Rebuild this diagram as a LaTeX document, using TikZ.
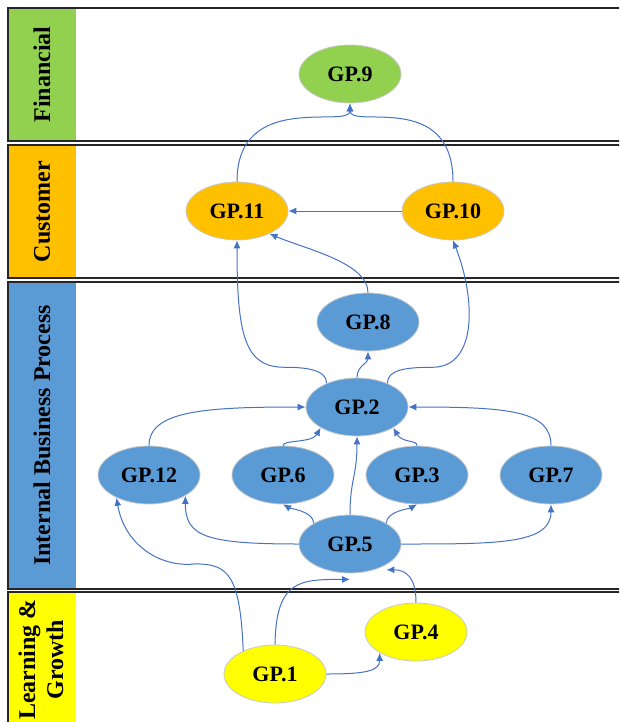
\documentclass[tikz,border=0pt]{standalone}
\usepackage{fontspec}
\setmainfont{Liberation Serif}
\usetikzlibrary{shapes.geometric,arrows.meta}
\definecolor{finGreen}{HTML}{92D050}
\definecolor{custOrange}{HTML}{FFC000}
\definecolor{procBlue}{HTML}{5B9BD5}
\definecolor{learnYellow}{HTML}{FFFF00}
\definecolor{linkBlue}{HTML}{4472C4}
\definecolor{rimGray}{HTML}{C8C8C8}
\tikzset{
  gp/.style={ellipse, draw=rimGray, line width=0.8pt, minimum width=102pt, minimum height=58pt, inner sep=0pt, font=\fontsize{22}{24}\selectfont\bfseries},
  lane/.style={draw=black!85, line width=1.3pt},
  lanelabel/.style={rotate=90, align=center, font=\fontsize{24}{28}\selectfont\bfseries},
  link/.style={draw=linkBlue, line width=1pt, -{Latex[length=8pt,width=7pt]}},
}
\begin{document}
\begin{tikzpicture}[x=1pt, y=-1pt]
\useasboundingbox (0,0) rectangle (619,722);
\clip (0,0) rectangle (619,722);

\fill[finGreen] (8,8) rectangle (76,141);
\fill[custOrange] (8,145) rectangle (76,278);
\fill[procBlue] (8,282) rectangle (76,589);
\fill[learnYellow] (8,592) rectangle (76,728);
\draw[lane] (8,8) rectangle (630,141);
\draw[lane] (8,145) rectangle (630,278);
\draw[lane] (8,282) rectangle (630,589);
\draw[lane] (8,592) rectangle (630,728);

\node[lanelabel] (finLabel) at (42,74.5) {Financial};
\node[lanelabel] (custLabel) at (42,211.5) {Customer};
\node[lanelabel] (procLabel) at (42,435.5) {Internal Business Process};
\node[lanelabel] (learnLabel) at (41,659.5) {Learning \&\\Growth};

\node[gp, fill=finGreen] (gp9) at (350,74) {GP.9};
\node[gp, fill=custOrange] (gp11) at (237,211) {GP.11};
\node[gp, fill=custOrange] (gp10) at (453,211) {GP.10};
\node[gp, fill=procBlue] (gp8) at (368,322) {GP.8};
\node[gp, fill=procBlue] (gp2) at (357,407) {GP.2};
\node[gp, fill=procBlue] (gp12) at (149,475) {GP.12};
\node[gp, fill=procBlue] (gp6) at (283,475) {GP.6};
\node[gp, fill=procBlue] (gp3) at (417,475) {GP.3};
\node[gp, fill=procBlue] (gp7) at (551,475) {GP.7};
\node[gp, fill=procBlue] (gp5) at (350,544) {GP.5};
\node[gp, fill=learnYellow] (gp4) at (416,632) {GP.4};
\node[gp, fill=learnYellow] (gp1) at (275,674) {GP.1};

\draw[link] (gp11.north) .. controls +(0,-92) and +(0,26) .. (gp9.south);
\draw[link] (gp10.north) .. controls +(0,-92) and +(0,26) .. (gp9.south);
\draw[link] (gp10.west) -- (gp11.east);

\draw[link] (gp2.142) .. controls +(0,-14) and +(20,0) .. ++(-42,-16)
  .. controls +(-40,0) and +(0,95) .. (gp11.south);
\draw[link] (gp2.38) .. controls +(0,-14) and +(-25,0) .. ++(45,-16)
  .. controls +(45,0) and +(23,59) .. (gp10.south);
\draw[link] (gp2.north) .. controls +(0,-12) and +(0,12) .. (gp8.south);
\draw[link] (gp8.north) .. controls +(0,-30) and +(35,15) .. (gp11.-35);

\draw[link] (gp5.north) .. controls +(0,-35) and +(0,40) .. (gp2.south);
\draw[link] (gp6.north) .. controls +(0,-6) and +(-9,15.5) .. (gp2.south west);
\draw[link] (gp3.north) .. controls +(0,-6) and +(9,15.5) .. (gp2.south east);
\draw[link] (gp12.north) .. controls +(0,-35) and +(-100,0) .. (gp2.west);
\draw[link] (gp7.north) .. controls +(0,-35) and +(100,0) .. (gp2.east);

\draw[link] (gp5.west) .. controls +(-95,0) and +(0,40) .. (gp12.south east);
\draw[link] (gp5.east) .. controls +(95,0) and +(0,40) .. (gp7.south);
\draw[link] (gp5.north west) .. controls +(0,-12) and +(7,4) .. (gp6.south);
\draw[link] (gp5.north east) .. controls +(0,-12) and +(-7,4) .. (gp3.south);

\draw[link] (gp1.144) .. controls +(-3,-76) and +(33,0) .. ++(-48,-87)
  .. controls +(-35,4) and +(8,47) .. (gp12.215);
\draw[link] (gp1.north) .. controls +(1,-65) and +(-50,0) .. ([yshift=-6pt]gp5.south);
\draw[link] (gp4.north) .. controls +(0,-25) and +(20,0) .. ([yshift=-5pt]gp5.south east);
\draw[link] (gp1.east) .. controls +(40,0) and +(0,18) .. (gp4.south west);
\end{tikzpicture}
\end{document}
